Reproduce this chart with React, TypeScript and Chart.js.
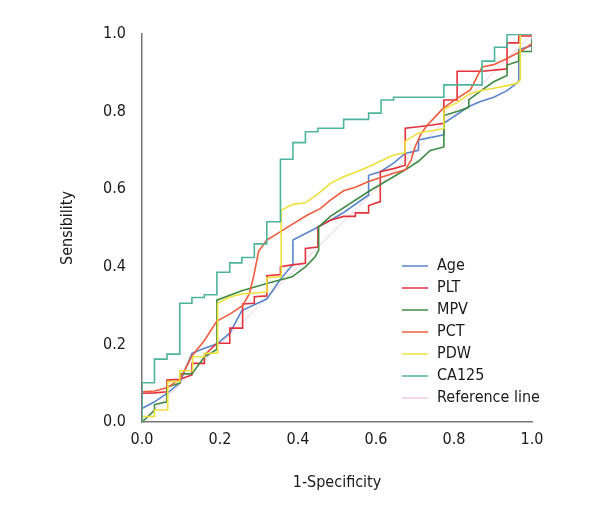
import React, { useEffect, useRef } from "react";
import { Chart, registerables } from "chart.js";

Chart.register(...registerables);

const seriesNames = ["Age", "PLT", "MPV", "PCT", "PDW", "CA125", "Reference line"];
const seriesColors = ["#5B86CB", "#E3323C", "#3E8B43", "#EF5B3D", "#EEE03A", "#4DB59B", "#F2CCDD"];
const xTicks = [0, 0.2, 0.4, 0.6, 0.8, 1.0];
const xTitle = "1-Specificity";
const yTitle = "Sensibility";

const agePts = [[0,0.035],[0.032,0.052],[0.064,0.074],[0.097,0.101],[0.128,0.177],[0.16,0.19],[0.192,0.201],[0.225,0.229],[0.256,0.287],[0.288,0.302],[0.32,0.317],[0.355,0.368],[0.385,0.404],[0.387,0.469],[0.453,0.503],[0.483,0.52],[0.517,0.54],[0.581,0.585],[0.581,0.636],[0.611,0.645],[0.645,0.667],[0.675,0.692],[0.709,0.70],[0.709,0.727],[0.774,0.74],[0.774,0.77],[0.838,0.813],[0.868,0.826],[0.902,0.837],[0.936,0.854],[0.966,0.877],[0.966,0.96],[1,0.97],[1,0.99]];
const pltPts = [[0,0.074],[0.032,0.075],[0.064,0.078],[0.064,0.108],[0.097,0.11],[0.128,0.121],[0.128,0.151],[0.16,0.151],[0.16,0.172],[0.192,0.203],[0.225,0.203],[0.225,0.242],[0.258,0.242],[0.258,0.304],[0.288,0.306],[0.288,0.323],[0.32,0.325],[0.32,0.377],[0.355,0.38],[0.355,0.4],[0.385,0.405],[0.419,0.409],[0.419,0.447],[0.451,0.451],[0.451,0.503],[0.483,0.52],[0.517,0.53],[0.547,0.53],[0.547,0.539],[0.581,0.539],[0.581,0.558],[0.611,0.568],[0.611,0.645],[0.645,0.653],[0.675,0.662],[0.675,0.757],[0.709,0.761],[0.739,0.765],[0.774,0.77],[0.774,0.83],[0.808,0.83],[0.808,0.904],[0.872,0.904],[0.936,0.91],[0.936,0.977],[0.966,0.977],[0.966,0.995],[1,0.995]];
const mpvPts = [[0,0],[0.032,0.03],[0.032,0.045],[0.064,0.052],[0.064,0.09],[0.097,0.1],[0.097,0.124],[0.128,0.124],[0.16,0.168],[0.192,0.187],[0.192,0.314],[0.256,0.338],[0.32,0.357],[0.385,0.374],[0.419,0.4],[0.444,0.426],[0.453,0.443],[0.453,0.503],[0.483,0.53],[0.581,0.594],[0.645,0.632],[0.675,0.65],[0.709,0.672],[0.739,0.7],[0.774,0.709],[0.774,0.79],[0.808,0.8],[0.838,0.811],[0.838,0.83],[0.872,0.856],[0.902,0.877],[0.936,0.893],[0.936,0.92],[0.966,0.93],[0.966,0.955],[1,0.955],[1,0.985]];
const pctPts = [[0,0.078],[0.032,0.08],[0.064,0.088],[0.097,0.11],[0.128,0.17],[0.16,0.21],[0.192,0.26],[0.225,0.278],[0.258,0.3],[0.275,0.33],[0.286,0.374],[0.299,0.44],[0.32,0.469],[0.354,0.49],[0.389,0.512],[0.423,0.533],[0.457,0.55],[0.483,0.572],[0.517,0.596],[0.547,0.605],[0.581,0.62],[0.645,0.641],[0.675,0.65],[0.69,0.675],[0.7,0.709],[0.714,0.74],[0.731,0.765],[0.752,0.787],[0.774,0.81],[0.808,0.834],[0.842,0.856],[0.872,0.915],[0.902,0.921],[0.936,0.937],[0.97,0.955],[1,0.975]];
const pdwPts = [[0,0],[0,0.014],[0.032,0.014],[0.032,0.031],[0.066,0.031],[0.066,0.104],[0.097,0.104],[0.097,0.132],[0.13,0.132],[0.13,0.168],[0.16,0.168],[0.16,0.177],[0.194,0.177],[0.194,0.306],[0.225,0.322],[0.256,0.33],[0.32,0.335],[0.32,0.372],[0.357,0.375],[0.357,0.546],[0.387,0.561],[0.419,0.565],[0.453,0.589],[0.483,0.615],[0.517,0.632],[0.551,0.645],[0.581,0.658],[0.611,0.672],[0.645,0.688],[0.675,0.694],[0.675,0.724],[0.709,0.745],[0.739,0.75],[0.774,0.756],[0.774,0.806],[0.808,0.823],[0.838,0.845],[0.872,0.855],[0.902,0.86],[0.936,0.867],[0.962,0.873],[0.97,0.882],[0.97,1.0],[1,1.0]];
const ca125Pts = [[0,0],[0,0.101],[0.032,0.101],[0.032,0.162],[0.064,0.162],[0.064,0.175],[0.097,0.175],[0.097,0.306],[0.128,0.306],[0.128,0.321],[0.16,0.321],[0.16,0.328],[0.192,0.328],[0.192,0.386],[0.225,0.386],[0.225,0.41],[0.256,0.41],[0.256,0.424],[0.288,0.424],[0.288,0.459],[0.32,0.459],[0.32,0.516],[0.355,0.516],[0.355,0.677],[0.387,0.677],[0.387,0.72],[0.419,0.72],[0.419,0.748],[0.451,0.748],[0.451,0.757],[0.517,0.757],[0.517,0.78],[0.581,0.78],[0.581,0.796],[0.613,0.796],[0.613,0.83],[0.645,0.83],[0.645,0.837],[0.774,0.837],[0.774,0.869],[0.872,0.869],[0.872,0.93],[0.904,0.93],[0.904,0.966],[0.936,0.966],[0.936,0.998],[1,1]];
const refPts = [[0,0],[1,1]];

const allSeries = [agePts, pltPts, mpvPts, pctPts, pdwPts, ca125Pts, refPts];

const FONT = "'Liberation Sans Narrow', 'DejaVu Sans Condensed', 'Open Sans', sans-serif";
const FSIZE = 16;

const legendPlugin = {
  id: "customLegend",
  afterDraw(chart: any) {
    const ctx = chart.ctx;
    const area = chart.chartArea;
    const x0 = area.right - 130;
    const y0 = area.top + 232;
    ctx.save();
    ctx.font = `${FSIZE}px ${FONT}`;
    ctx.textBaseline = "middle";
    ctx.textAlign = "left";
    seriesNames.forEach((name, i) => {
      const y = y0 + i * 22;
      ctx.strokeStyle = seriesColors[i];
      ctx.lineWidth = 1.5;
      ctx.beginPath();
      ctx.moveTo(x0, y);
      ctx.lineTo(x0 + 26, y);
      ctx.stroke();
      ctx.fillStyle = "#1a1a1a";
      ctx.fillText(name, x0 + 35, y);
    });
    ctx.restore();
  },
};

export default function App() {
  const ref = useRef<HTMLCanvasElement | null>(null);
  useEffect(() => {
    if (!ref.current) return;
    const datasets = allSeries.map((pts, i) => ({
      label: seriesNames[i],
      data: pts.map(([x, y]) => ({ x, y })),
      borderColor: seriesColors[i],
      backgroundColor: seriesColors[i],
      borderWidth: i === 6 ? 1 : 1.6,
      showLine: true,
      pointRadius: 0,
      tension: 0,
      fill: false,
      order: i === 6 ? 10 : 6 - i,
    }));
    const chart = new Chart(ref.current, {
      type: "scatter",
      data: { datasets },
      options: {
        animation: false,
        responsive: false,
        maintainAspectRatio: false,
        layout: { padding: { left: 0, top: 34, right: 68, bottom: 0 } },
        plugins: { legend: { display: false }, tooltip: { enabled: false } },
        scales: {
          x: {
            type: "linear",
            min: 0,
            max: 1,
            afterFit: (s: any) => { s.height = 98; },
            afterBuildTicks: (s: any) => { s.ticks = xTicks.map((v) => ({ value: v })); },
            grid: { display: false, drawTicks: false },
            border: { display: true, color: "#777", width: 1.5 },
            ticks: {
              padding: 8,
              color: "#1a1a1a",
              font: { family: FONT, size: FSIZE },
              callback: (v: any) => Number(v).toFixed(1),
            },
            title: {
              display: true,
              text: xTitle,
              color: "#1a1a1a",
              font: { family: FONT, size: FSIZE },
              padding: { top: 0, bottom: 28 },
            },
          },
          y: {
            type: "linear",
            min: 0,
            max: 1,
            afterFit: (s: any) => { s.width = 142; },
            afterBuildTicks: (s: any) => { s.ticks = xTicks.map((v) => ({ value: v })); },
            grid: { display: false, drawTicks: false },
            border: { display: true, color: "#777", width: 1.5 },
            ticks: {
              padding: 16,
              color: "#1a1a1a",
              font: { family: FONT, size: FSIZE },
              callback: (v: any) => Number(v).toFixed(1),
            },
            title: {
              display: true,
              text: yTitle,
              color: "#1a1a1a",
              font: { family: FONT, size: FSIZE },
              padding: { top: 58, bottom: 0 },
            },
          },
        },
      },
      plugins: [legendPlugin],
    });
    return () => chart.destroy();
  }, []);
  return (
    <div style={{ position: "fixed", left: 0, top: 0, width: 600, height: 520, background: "#fff" }}>
      <canvas ref={ref} width={600} height={520} style={{ width: 600, height: 520 }} />
    </div>
  );
}
